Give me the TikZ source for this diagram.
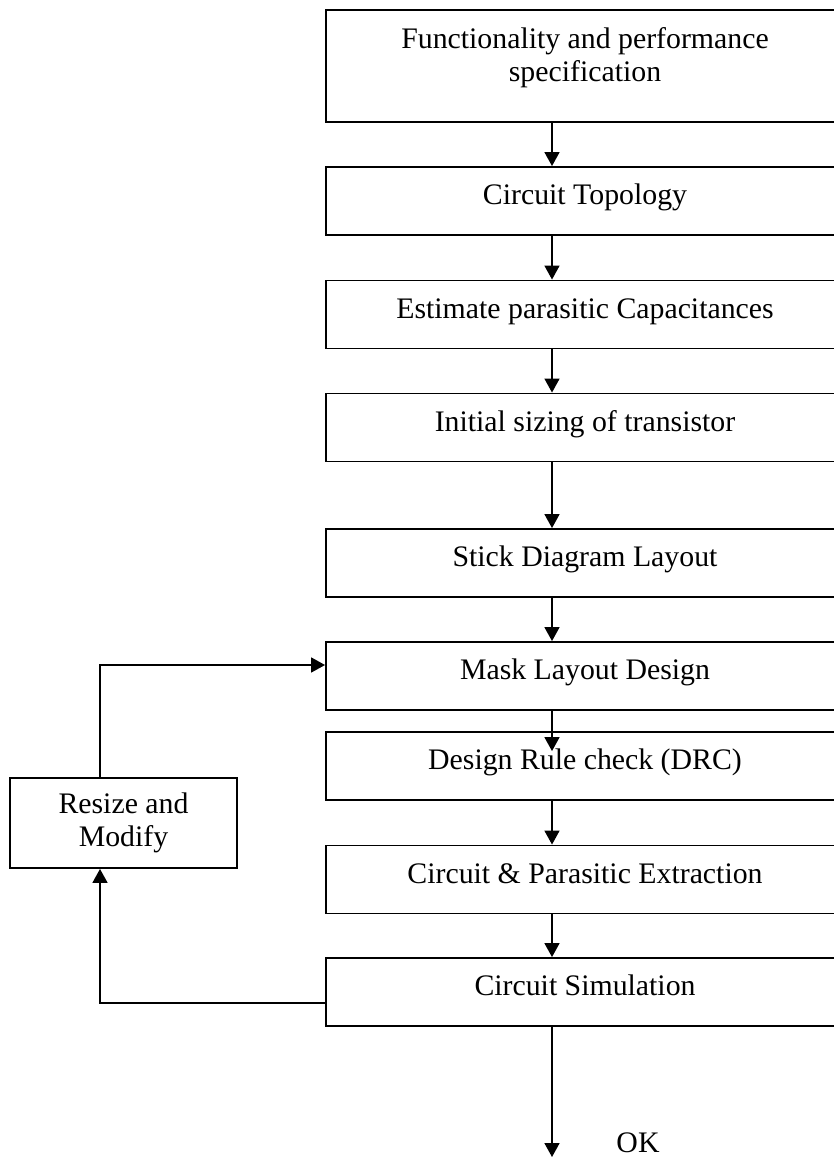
\documentclass[tikz,border=0pt]{standalone}
\usepackage{fontspec}
\setmainfont{Liberation Serif}
\usetikzlibrary{arrows.meta}
\begin{document}
\begin{tikzpicture}[x=1pt,y=-1pt,
  every node/.style={font=\fontsize{29.8}{33.5}\selectfont},
  stepbox/.style={draw, line width=1.9pt, minimum width=518pt, minimum height=68pt,
    inner sep=0pt, text height=20pt, text depth=13pt},
  sidebox/.style={draw, line width=1.9pt, minimum width=227pt, minimum height=90pt,
    inner sep=0pt, align=center},
  flow/.style={line width=1.7pt, -{Triangle[width=15pt,length=14pt]}}]
\useasboundingbox (0,0) rectangle (834,1158);
\clip (0,0) rectangle (834,1158);

% main design flow
\node[stepbox, minimum height=112pt, text height=, text depth=] (spec) at (585,66) {};
\node[anchor=north, inner sep=0pt, align=center] (spectext) at (585,27)
  {Functionality and performance\\specification};
\node[stepbox] (topo)  at (585,201)   {Circuit Topology};
\node[stepbox] (cap)   at (585,314.5) {Estimate parasitic Capacitances};
\node[stepbox] (size)  at (585,427.5) {Initial sizing of transistor};
\node[stepbox] (stick) at (585,563)   {Stick Diagram Layout};
\node[stepbox] (mask)  at (585,676)   {Mask Layout Design};
\node[stepbox] (drc)   at (585,766)   {Design Rule check (DRC)};
\node[stepbox] (ext)   at (585,879.5) {Circuit \& Parasitic Extraction};
\node[stepbox] (sim)   at (585,992)   {Circuit Simulation};

% feedback box
\node[sidebox] (resize) at (123.5,823) {Resize and\\Modify};

% arrow column and loop rail
\coordinate (ax) at (552,0);
\coordinate (rail) at (100,0);
\coordinate (done) at (552,1157);
\node[inner sep=0pt] (ok) at (638,1143) {OK};

\draw[flow] (spec.south -| ax) -- (topo.north -| ax);
\draw[flow] (topo.south -| ax) -- (cap.north -| ax);
\draw[flow] (cap.south -| ax) -- (size.north -| ax);
\draw[flow] (size.south -| ax) -- (stick.north -| ax);
\draw[flow] (stick.south -| ax) -- (mask.north -| ax);
\draw[flow] (mask.south -| ax) -- ([yshift=-20pt]drc.north -| ax);
\draw[flow] (drc.south -| ax) -- (ext.north -| ax);
\draw[flow] (ext.south -| ax) -- (sim.north -| ax);
\draw[flow] (sim.south -| ax) -- (done);

% simulation fails: resize, then back to mask layout
\coordinate (simout) at ([yshift=-11pt]sim.west);
\coordinate (maskin) at ([yshift=11pt]mask.west);
\draw[flow] (simout) -| (resize.south -| rail);
\draw[flow] (resize.north -| rail) |- (maskin);
\end{tikzpicture}
\end{document}
